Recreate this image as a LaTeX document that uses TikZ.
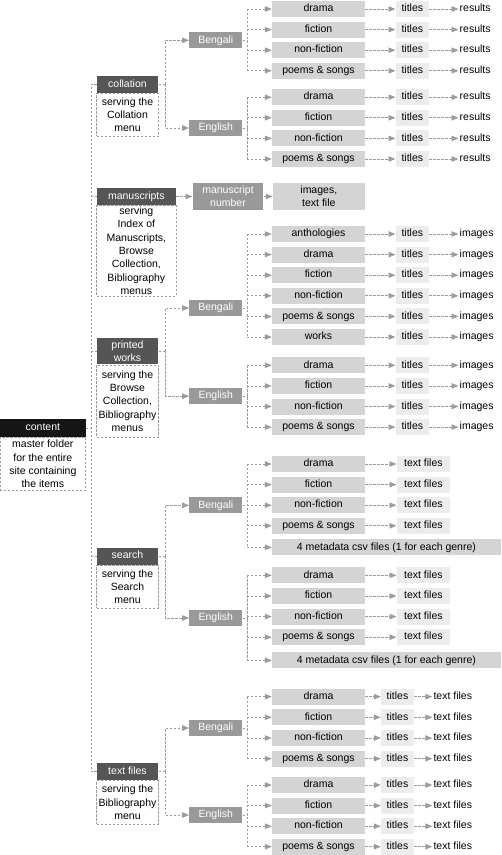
\documentclass[tikz,border=0pt]{standalone}
\usepackage{fontspec}
\setmainfont{Liberation Sans}
\usetikzlibrary{arrows.meta,calc}
\definecolor{lineg}{HTML}{9C9C9C}
\definecolor{hdrg}{HTML}{555555}
\definecolor{blkg}{HTML}{151515}
\definecolor{langg}{HTML}{999999}
\definecolor{geng}{HTML}{D4D4D4}
\definecolor{ttlg}{HTML}{ECECEC}
\begin{document}
\begin{tikzpicture}[x=1pt,y=-1pt,
  font=\fontsize{10.5pt}{13.3pt}\selectfont,
  ln/.style={draw=lineg, line width=0.8pt, dash pattern=on 2.4pt off 1.6pt},
  arr/.style={ln, -{Triangle[length=7pt,width=5.5pt]}},
  hdrm/.style={fill=hdrg, text=white, inner sep=0pt, minimum width=61.6pt, align=center},
  hdr/.style={hdrm, minimum height=17pt, text height=7.6pt, text depth=2.2pt},
  dsc/.style={draw=lineg, line width=0.7pt, dash pattern=on 2.4pt off 1.6pt, inner sep=0pt, minimum width=61.6pt, anchor=north, align=center},
  lng/.style={fill=langg, text=white, inner sep=0pt, minimum width=53pt, minimum height=16pt, text height=7.6pt, text depth=2.2pt},
  gen/.style={fill=geng, inner sep=0pt, minimum width=93pt, minimum height=16pt, text height=7.6pt, text depth=2.2pt},
  ttl/.style={fill=ttlg, inner sep=0pt, minimum width=33.3pt, minimum height=16pt, text height=7.6pt, text depth=2.2pt},
  fin/.style={anchor=west, inner sep=1pt, text height=7.6pt, text depth=2.2pt}
]
\useasboundingbox (0,0) rectangle (502,855);

% ---------- content ----------
\node[hdr, fill=blkg, minimum width=85.7pt, minimum height=17.4pt] (cH) at (42.85,428) {content};
\node[dsc, minimum width=85.7pt, minimum height=53.3pt] (cD) at (cH.south) {master folder\\for the entire\\site containing\\the items};

% ---------- section headers ----------
\node[hdr] (colH) at (127.5,84.35) {collation};
\node[dsc, minimum height=43pt] (colD) at (colH.south) {serving the\\Collation\\menu};

\node[hdr, minimum width=79.3pt] (msH) at (136.35,196.5) {manuscripts};
\node[dsc, minimum width=79.3pt, minimum height=90.5pt] (msD) at (msH.south) {serving\\Index of\\Manuscripts,\\Browse\\Collection,\\Bibliography\\menus};

\node[hdrm, minimum height=26pt] (pwH) at (127.5,351.3) {printed\\works};
\node[dsc, minimum height=72.4pt] (pwD) at (pwH.south) {serving the\\Browse\\Collection,\\Bibliography\\menus};

\node[hdr] (seH) at (127.5,556.15) {search};
\node[dsc, minimum height=42.7pt] (seD) at (seH.south) {serving the\\Search\\menu};

\node[hdr] (tfH) at (127.5,771.65) {text files};
\node[dsc, minimum height=43.3pt] (tfD) at (tfH.south) {serving the\\Bibliography\\menu};

% ---------- trunk ----------
\coordinate (tt) at (91,84.35);
\draw[ln] (colH.west) -- (colH.west -| tt) |- (tfH.west);
\draw[ln] (cH.east) -- (cH.east -| tt);
\draw[ln] (msH.west -| tt) -- (msH.west);
\draw[ln] (pwH.west -| tt) -- (pwH.west);
\draw[ln] (seH.west -| tt) -- (seH.west);

% ---------- language boxes ----------
\node[lng] (cbL) at (215.8,40.3) {Bengali};
\node[lng] (ceL) at (215.8,128) {English};
\node[lng] (pbL) at (215.8,308) {Bengali};
\node[lng] (peL) at (215.8,396.2) {English};
\node[lng] (sbL) at (215.8,505.3) {Bengali};
\node[lng] (seL) at (215.8,618) {English};
\node[lng] (tbL) at (215.8,728) {Bengali};
\node[lng] (teL) at (215.8,815) {English};

% branches from headers
\foreach \h/\a/\b in {colH/cbL/ceL, pwH/pbL/peL, seH/sbL/seL, tfH/tbL/teL}{
  \coordinate (\h br) at ($(\h.east)+(6.7,0)$);
  \draw[ln] (\h.east) -- (\h br);
  \draw[arr] (\h br) |- (\a);
  \draw[arr] (\h br) |- (\b);
}

% ---------- manuscripts ----------
\node[fill=langg, text=white, inner sep=0pt, minimum width=70.6pt, minimum height=27pt, align=center] (msN) at (228,196.5) {manuscript\\number};
\node[fill=geng, inner sep=0pt, minimum width=91.7pt, minimum height=26.7pt, align=center] (msI) at (318.8,196.5) {images,\\text file};
\draw[arr] (msH) -- (msN);
\draw[arr] (msN) -- (msI);

% ---------- fan coordinates ----------
\foreach \L in {cbL,ceL,pbL,peL,sbL,seL,tbL,teL}{
  \coordinate (\L v) at ($(\L.east)+(4.4,0)$);
  \draw[ln] (\L.east) -- (\L v);
}

% ---------- collation genres ----------
\foreach \n/\t/\y in {1/drama/9, 2/fiction/29.6, 3/non-fiction/50.2, 4/poems \& songs/70.8}{
  \node[gen] (cbg\n) at (318.5,\y) {\t};
  \node[ttl] (cbt\n) at (412.35,\y) {titles};
  \node[fin] (cbr\n) at (458.5,\y) {results};
  \draw[arr] (cbg\n.west -| cbLv) -- (cbg\n);
  \draw[arr] (cbg\n) -- (cbt\n);
  \draw[arr] (cbt\n) -- (cbr\n);
}
\draw[ln] (cbg1.west -| cbLv) -- (cbg4.west -| cbLv);

\foreach \n/\t/\y in {1/drama/97.2, 2/fiction/117.8, 3/non-fiction/138.4, 4/poems \& songs/159}{
  \node[gen] (ceg\n) at (318.5,\y) {\t};
  \node[ttl] (cet\n) at (412.35,\y) {titles};
  \node[fin] (cer\n) at (458.5,\y) {results};
  \draw[arr] (ceg\n.west -| ceLv) -- (ceg\n);
  \draw[arr] (ceg\n) -- (cet\n);
  \draw[arr] (cet\n) -- (cer\n);
}
\draw[ln] (ceg1.west -| ceLv) -- (ceg4.west -| ceLv);

% ---------- printed works genres ----------
\foreach \n/\t/\y in {1/anthologies/234, 2/drama/254.6, 3/fiction/275.2, 4/non-fiction/295.8, 5/poems \& songs/316.4, 6/works/337}{
  \node[gen] (pbg\n) at (318.5,\y) {\t};
  \node[ttl] (pbt\n) at (412.35,\y) {titles};
  \node[fin] (pbr\n) at (458.5,\y) {images};
  \draw[arr] (pbg\n.west -| pbLv) -- (pbg\n);
  \draw[arr] (pbg\n) -- (pbt\n);
  \draw[arr] (pbt\n) -- (pbr\n);
}
\draw[ln] (pbg1.west -| pbLv) -- (pbg6.west -| pbLv);

\foreach \n/\t/\y in {1/drama/365.3, 2/fiction/385.9, 3/non-fiction/406.5, 4/poems \& songs/427.1}{
  \node[gen] (peg\n) at (318.5,\y) {\t};
  \node[ttl] (pet\n) at (412.35,\y) {titles};
  \node[fin] (per\n) at (458.5,\y) {images};
  \draw[arr] (peg\n.west -| peLv) -- (peg\n);
  \draw[arr] (peg\n) -- (pet\n);
  \draw[arr] (pet\n) -- (per\n);
}
\draw[ln] (peg1.west -| peLv) -- (peg4.west -| peLv);

% ---------- search genres ----------
\foreach \n/\t/\y in {1/drama/464, 2/fiction/484.6, 3/non-fiction/505.2, 4/poems \& songs/525.8}{
  \node[gen] (sbg\n) at (318.5,\y) {\t};
  \node[ttl, minimum width=53.3pt] (sbt\n) at (423.35,\y) {text files};
  \draw[arr] (sbg\n.west -| sbLv) -- (sbg\n);
  \draw[arr] (sbg\n) -- (sbt\n);
}
\node[gen, minimum width=228.7pt] (sbm) at (386.35,547.3) {4 metadata csv files (1 for each genre)};
\draw[arr] (sbm.west -| sbLv) -- (sbm);
\draw[ln] (sbg1.west -| sbLv) -- (sbm.west -| sbLv);

\foreach \n/\t/\y in {1/drama/575.3, 2/fiction/596, 3/non-fiction/616.6, 4/poems \& songs/637.2}{
  \node[gen] (seg\n) at (318.5,\y) {\t};
  \node[ttl, minimum width=53.3pt] (set\n) at (423.35,\y) {text files};
  \draw[arr] (seg\n.west -| seLv) -- (seg\n);
  \draw[arr] (seg\n) -- (set\n);
}
\node[gen, minimum width=228.7pt] (sem) at (386.35,660.3) {4 metadata csv files (1 for each genre)};
\draw[arr] (sem.west -| seLv) -- (sem);
\draw[ln] (seg1.west -| seLv) -- (sem.west -| seLv);

% ---------- text files genres ----------
\foreach \n/\t/\y in {1/drama/696.7, 2/fiction/717.3, 3/non-fiction/738, 4/poems \& songs/758.7}{
  \node[gen] (tbg\n) at (318.5,\y) {\t};
  \node[ttl, minimum width=33pt] (tbt\n) at (397.5,\y) {titles};
  \node[fin] (tbr\n) at (432.3,\y) {text files};
  \draw[arr] (tbg\n.west -| tbLv) -- (tbg\n);
  \draw[arr] (tbg\n) -- (tbt\n);
  \draw[arr] (tbt\n) -- (tbr\n);
}
\draw[ln] (tbg1.west -| tbLv) -- (tbg4.west -| tbLv);

\foreach \n/\t/\y in {1/drama/785, 2/fiction/805.6, 3/non-fiction/826.2, 4/poems \& songs/846.7}{
  \node[gen] (teg\n) at (318.5,\y) {\t};
  \node[ttl, minimum width=33pt] (tet\n) at (397.5,\y) {titles};
  \node[fin] (ter\n) at (432.3,\y) {text files};
  \draw[arr] (teg\n.west -| teLv) -- (teg\n);
  \draw[arr] (teg\n) -- (tet\n);
  \draw[arr] (tet\n) -- (ter\n);
}
\draw[ln] (teg1.west -| teLv) -- (teg4.west -| teLv);
\end{tikzpicture}
\end{document}
